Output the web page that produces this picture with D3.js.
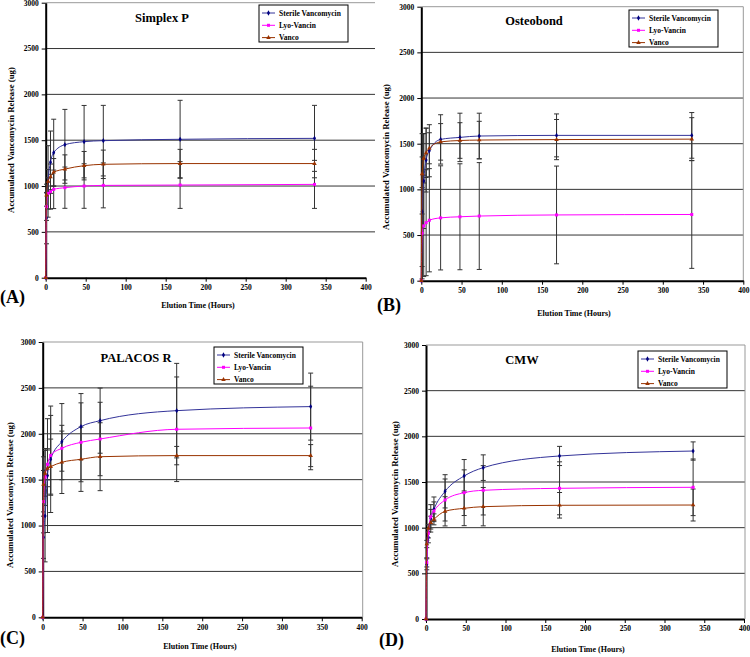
<!DOCTYPE html>
<html>
<head>
<meta charset="utf-8">
<script src="https://cdn.jsdelivr.net/npm/d3@7"></script>
<style>
  body { margin: 0; background: #fff; }
  svg text { font-family: "Liberation Serif", "Times New Roman", serif; font-weight: bold; fill: #000; }
</style>
</head>
<body>
<script>
// sampling times (hours)
var times = [0, 1, 3, 6, 10, 24, 48, 72, 168, 336];
var xTicks = [0, 50, 100, 150, 200, 250, 300, 350, 400];
var yTicks = [0, 500, 1000, 1500, 2000, 2500, 3000];
var seriesNames = ["Sterile Vancomycin", "Lyo-Vancin", "Vanco"];
var panelTitles = ["Simplex P", "Osteobond", "PALACOS R", "CMW"];
var panelLetters = ["(A)", "(B)", "(C)", "(D)"];

// Simplex P
var simplexSterile   = [0, 650, 1050, 1260, 1364, 1451, 1484, 1495, 1510, 1520];
var simplexSterileSd = [0, 280, 390, 340, 365, 385, 395, 385, 425, 360];
var simplexLyo       = [0, 775, 920, 938, 964, 982, 1000, 1007, 1011, 1018];
var simplexLyoSd     = [0, 150, 170, 190, 210, 225, 243, 245, 255, 262];
var simplexVanco     = [0, 900, 1050, 1100, 1150, 1185, 1222, 1237, 1245, 1245];
var simplexVancoSd   = [0, 120, 130, 140, 150, 155, 155, 155, 155, 155];

// Osteobond
var osteoSterile   = [0, 755, 1091, 1321, 1423, 1547, 1569, 1584, 1591, 1591];
var osteoSterileSd = [0, 600, 520, 350, 285, 270, 265, 250, 235, 250];
var osteoLyo       = [0, 520, 600, 635, 662, 688, 700, 708, 720, 725];
var osteoLyoSd     = [0, 500, 555, 580, 565, 570, 580, 585, 535, 590];
var osteoVanco     = [0, 1170, 1340, 1400, 1450, 1520, 1535, 1540, 1545, 1550];
var osteoVancoSd   = [0, 440, 270, 270, 170, 200, 195, 205, 220, 235];

// PALACOS R
var palacosSterile   = [0, 872, 1104, 1544, 1722, 1914, 2078, 2143, 2252, 2296];
var palacosSterileSd = [0, 230, 500, 620, 580, 415, 360, 355, 515, 365];
var palacosLyo       = [0, 1260, 1529, 1667, 1765, 1842, 1907, 1943, 2049, 2063];
var palacosLyoSd     = [0, 340, 310, 170, 435, 250, 430, 400, 570, 455];
var palacosVanco     = [0, 1449, 1569, 1623, 1642, 1689, 1722, 1750, 1762, 1762];
var palacosVancoSd   = [0, 300, 250, 200, 300, 340, 350, 370, 100, 120];

// CMW
var cmwSterile   = [0, 599, 894, 1102, 1201, 1398, 1566, 1657, 1785, 1839];
var cmwSterileSd = [0, 60, 60, 150, 135, 182, 180, 140, 105, 100];
var cmwLyo       = [0, 620, 938, 1120, 1182, 1303, 1383, 1409, 1431, 1442];
var cmwLyoSd     = [0, 50, 50, 80, 100, 230, 250, 270, 290, 310];
var cmwVanco     = [0, 821, 993, 1055, 1091, 1179, 1212, 1230, 1245, 1248];
var cmwVancoSd   = [0, 40, 40, 70, 60, 160, 190, 210, 140, 175];

var panelData = [
    [[simplexSterile, simplexSterileSd], [simplexLyo, simplexLyoSd], [simplexVanco, simplexVancoSd]],
    [[osteoSterile, osteoSterileSd], [osteoLyo, osteoLyoSd], [osteoVanco, osteoVancoSd]],
    [[palacosSterile, palacosSterileSd], [palacosLyo, palacosLyoSd], [palacosVanco, palacosVancoSd]],
    [[cmwSterile, cmwSterileSd], [cmwLyo, cmwLyoSd], [cmwVanco, cmwVancoSd]]
];

var lineColors = ["#333399", "#ff00ff", "#993300"];
var markColors = ["#000080", "#ff00ff", "#993300"];
var markShapes = [d3.symbolDiamond, d3.symbolSquare, d3.symbolTriangle];
var markSizes = [8, 9, 9];

// plot rectangles for the four panels
var layout = [
    {x0: 45.7, x1: 365.7, y0: 2.7, y1: 277.7, gridEnd: 375, titleX: 162, titleY: 22, leg: [259, 5], letterX: 0, letterY: 303, xlabX: 198, xlabY: 308, ylabX: 11, ylabY: 140},
    {x0: 421.3, x1: 743.3, y0: 6.7, y1: 280.7, gridEnd: 743.3, titleX: 534, titleY: 25, leg: [629, 10], letterX: 377, letterY: 311, xlabX: 574, xlabY: 316, ylabX: 386, ylabY: 157},
    {x0: 42.7, x1: 361.7, y0: 342, y1: 617.3, gridEnd: 362.7, titleX: 136, titleY: 362, leg: [214, 347], letterX: 0, letterY: 644, xlabX: 200, xlabY: 649, ylabX: 10, ylabY: 495},
    {x0: 426, x1: 744, y0: 345, y1: 619, gridEnd: 745, titleX: 522, titleY: 364, leg: [638, 351], letterX: 379, letterY: 646, xlabX: 588, xlabY: 652, ylabX: 395, ylabY: 494}
];

var svg = d3.select("body").append("svg")
    .attr("width", 750)
    .attr("height", 657);

layout.forEach(function(p, pi) {
    var g = svg.append("g");
    var x = d3.scaleLinear().domain([0, 400]).range([p.x0, p.x1]);
    var y = d3.scaleLinear().domain([0, 3000]).range([p.y1, p.y0]);

    // gridlines
    g.selectAll(".grid").data(yTicks.slice(1)).enter().append("line")
        .attr("x1", p.x0).attr("x2", p.gridEnd)
        .attr("y1", function(d) { return y(d); }).attr("y2", function(d) { return y(d); })
        .attr("stroke", function(d) { return d === 3000 ? "#999" : "#333"; })
        .attr("stroke-width", 1);
    if (pi > 0) {
        g.append("line").attr("x1", p.gridEnd).attr("x2", p.gridEnd)
            .attr("y1", p.y0).attr("y2", p.y1)
            .attr("stroke", "#999");
    }

    // axes
    var xa = g.append("g").attr("transform", "translate(0," + p.y1 + ")")
        .call(d3.axisBottom(x).tickValues(xTicks).tickFormat(d3.format("d"))
            .tickSize(4).tickSizeOuter(0).tickPadding(3));
    var ya = g.append("g").attr("transform", "translate(" + p.x0 + ",0)")
        .call(d3.axisLeft(y).tickValues(yTicks).tickFormat(d3.format("d"))
            .tickSize(4).tickSizeOuter(0).tickPadding(3));
    [xa, ya].forEach(function(a) {
        a.select(".domain").attr("stroke", "#000").attr("stroke-width", 2);
        a.selectAll(".tick line").attr("stroke", "#000").attr("stroke-width", 1);
        a.selectAll(".tick text").attr("font-size", 7.5)
            .attr("font-family", "Liberation Serif, serif").attr("font-weight", "bold");
    });

    // error bars
    panelData[pi].forEach(function(s, si) {
        var vals = s[0], sds = s[1];
        var pts = times.map(function(t, i) { return {t: t, v: vals[i], sd: sds[i]}; })
            .filter(function(d) { return d.sd > 0; });
        var eb = g.append("g").attr("stroke", "#333").attr("stroke-width", 1);
        eb.selectAll(".v").data(pts).enter().append("line")
            .attr("x1", function(d) { return x(d.t); }).attr("x2", function(d) { return x(d.t); })
            .attr("y1", function(d) { return y(d.v - d.sd); }).attr("y2", function(d) { return y(d.v + d.sd); });
        [-1, 1].forEach(function(sg) {
            eb.selectAll(".c" + sg).data(pts).enter().append("line")
                .attr("x1", function(d) { return x(d.t) - 2.5; }).attr("x2", function(d) { return x(d.t) + 2.5; })
                .attr("y1", function(d) { return y(d.v + sg * d.sd); }).attr("y2", function(d) { return y(d.v + sg * d.sd); });
        });
    });

    // lines and markers
    panelData[pi].forEach(function(s, si) {
        var vals = s[0];
        var pts = times.map(function(t, i) { return [t, vals[i]]; });
        g.append("path").datum(pts)
            .attr("fill", "none").attr("stroke", lineColors[si]).attr("stroke-width", 1)
            .attr("d", d3.line().curve(d3.curveMonotoneX)
                .x(function(d) { return x(d[0]); }).y(function(d) { return y(d[1]); }));
        g.selectAll(".m" + si).data(pts).enter().append("path")
            .attr("transform", function(d) { return "translate(" + x(d[0]) + "," + y(d[1]) + ")"; })
            .attr("d", d3.symbol().type(markShapes[si]).size(markSizes[si]))
            .attr("fill", markColors[si]);
    });

    // title
    g.append("text").attr("x", p.titleX).attr("y", p.titleY)
        .attr("text-anchor", "middle").attr("font-size", 12.5).text(panelTitles[pi]);

    // legend
    var lg = g.append("g").attr("transform", "translate(" + p.leg[0] + "," + p.leg[1] + ")");
    lg.append("rect").attr("width", 89).attr("height", 37)
        .attr("fill", "#fff").attr("stroke", "#000").attr("stroke-width", 1);
    seriesNames.forEach(function(n, si) {
        var ly = 8 + si * 12.3;
        lg.append("line").attr("x1", 3).attr("x2", 16).attr("y1", ly).attr("y2", ly)
            .attr("stroke", lineColors[si]).attr("stroke-width", 1);
        lg.append("path").attr("transform", "translate(9.5," + ly + ")")
            .attr("d", d3.symbol().type(markShapes[si]).size(markSizes[si]))
            .attr("fill", markColors[si]);
        lg.append("text").attr("x", 20).attr("y", ly + 2.7)
            .attr("font-size", 7.5).text(n);
    });

    // axis labels
    g.append("text").attr("x", p.xlabX).attr("y", p.xlabY)
        .attr("text-anchor", "middle").attr("font-size", 8).text("Elution Time (Hours)");
    g.append("text")
        .attr("transform", "translate(" + (p.ylabX + 3) + "," + p.ylabY + ") rotate(-90)")
        .attr("text-anchor", "middle").attr("font-size", 8.8)
        .text("Accumulated Vancomycin Release (ug)");

    g.append("text").attr("x", p.letterX).attr("y", p.letterY)
        .attr("font-size", 18).text(panelLetters[pi]);
});
</script>
</body>
</html>
